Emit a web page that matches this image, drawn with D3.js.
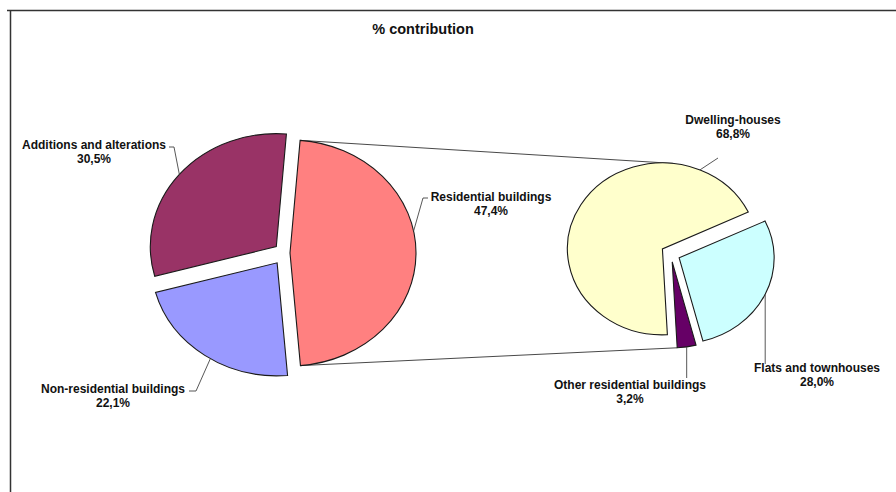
<!DOCTYPE html>
<html>
<head>
<meta charset="utf-8">
<script src="https://cdn.jsdelivr.net/npm/d3@7"></script>
<style>
  html, body { margin: 0; padding: 0; background: #fff; }
  svg { display: block; }
  text { font-family: "Liberation Sans", Arial, sans-serif; font-weight: bold; fill: #111; }
</style>
</head>
<body>
<svg id="chart" width="896" height="492"></svg>
<script>
// ---- data ----
const title = "% contribution";
const mainCategories = ["Residential buildings", "Non-residential buildings", "Additions and alterations"];
const mainValues = [47.4, 22.1, 30.5];
const subCategories = ["Dwelling-houses", "Flats and townhouses", "Other residential buildings"];
const subValues = [68.8, 28.0, 3.2];

// ---- styles / layout ----
const mainColors = ["#FF8080", "#9999FF", "#993366"];
const subColors = ["#FFFFCC", "#CCFFFF", "#660066"];
const deg = Math.PI / 180;

const mainPie = { cx: 284, cy: 253, rx: 126, ry: 113, start: 4.6, explode: [6, 12, 10] };
const subPie = { cx: 671, cy: 254, rx: 95, ry: 86, start: 177, explode: [10, 9, 8] };

const fmt = v => d3.format(".1f")(v).replace(".", ",") + "%";

const svg = d3.select("#chart");

// frame
svg.append("line").attr("x1", 7).attr("y1", 10.5).attr("x2", 896).attr("y2", 10.5)
  .attr("stroke", "#333").attr("stroke-width", 1.5);
svg.append("line").attr("x1", 10.5).attr("y1", 10).attr("x2", 10.5).attr("y2", 492)
  .attr("stroke", "#333").attr("stroke-width", 1.5);

// title
svg.append("text").attr("x", 423).attr("y", 34).attr("text-anchor", "middle")
  .style("font-size", "14.5px").text(title);

function buildPie(cfg, values) {
  const pie = d3.pie().sort(null).value(d => d)
    .startAngle(cfg.start * deg).endAngle(cfg.start * deg + 2 * Math.PI);
  const arcs = pie(values);
  arcs.forEach((a, i) => {
    const mid = (a.startAngle + a.endAngle) / 2;
    a.ox = cfg.cx + cfg.explode[i] * Math.sin(mid);
    a.oy = cfg.cy - cfg.explode[i] * Math.cos(mid);
    a.mid = mid;
  });
  return arcs;
}
function pt(cfg, a, ang) {
  return [a.ox + cfg.rx * Math.sin(ang), a.oy - cfg.ry * Math.cos(ang)];
}
function drawPie(cfg, arcs, colors) {
  const arcGen = d3.arc().innerRadius(0).outerRadius(cfg.rx);
  const g = svg.append("g");
  g.selectAll("path").data(arcs).join("path")
    .attr("transform", d => `translate(${d.ox},${d.oy}) scale(1,${cfg.ry / cfg.rx})`)
    .attr("d", arcGen)
    .attr("fill", (d, i) => colors[i])
    .attr("stroke", "#1a1a1a")
    .attr("stroke-width", 1.1)
    .attr("vector-effect", "non-scaling-stroke")
    .attr("stroke-linejoin", "miter");
}

const mainArcs = buildPie(mainPie, mainValues);
const subArcs = buildPie(subPie, subValues);

// connector lines (residential slice -> secondary pie)
const res = mainArcs[0];
const cTop0 = pt(mainPie, res, res.startAngle);
const cBot0 = pt(mainPie, res, res.endAngle);
const cTop1 = pt(subPie, subArcs[0], (subPie.start + 189.4) * deg);
const cBot1 = pt(subPie, subArcs[2], subArcs[2].endAngle);
const lineGen = d3.line();
svg.append("path").attr("d", lineGen([cTop0, cTop1])).attr("fill", "none").attr("stroke", "#333").attr("stroke-width", 0.9);
svg.append("path").attr("d", lineGen([cBot0, cBot1])).attr("fill", "none").attr("stroke", "#333").attr("stroke-width", 0.9);

drawPie(mainPie, mainArcs, mainColors);
drawPie(subPie, subArcs, subColors);

// labels
function label(x, y, anchor, lines) {
  const t = svg.append("text").attr("text-anchor", anchor).style("font-size", "12px");
  lines.forEach((s, i) => t.append("tspan").attr("x", x).attr("y", y + i * 13.5).text(s));
}
function leader(points) {
  svg.append("path").attr("d", lineGen(points)).attr("fill", "none")
    .attr("stroke", "#444").attr("stroke-width", 0.9);
}

// Additions and alterations
label(94, 149, "middle", [mainCategories[2], fmt(mainValues[2])]);
leader([[169, 147], [174, 147], pt(mainPie, mainArcs[2], mainArcs[2].mid)]);

// Non-residential buildings
label(113, 393, "middle", [mainCategories[1], fmt(mainValues[1])]);
leader([[189, 391], [196, 391], pt(mainPie, mainArcs[1], 212 * deg)]);

// Residential buildings
label(491, 201, "middle", [mainCategories[0], fmt(mainValues[0])]);
leader([[428, 198], [423, 198], pt(mainPie, mainArcs[0], 78.8 * deg)]);

// Dwelling-houses
label(733, 124, "middle", [subCategories[0], fmt(subValues[0])]);
leader([[718, 158], pt(subPie, subArcs[0], 23.3 * deg)]);

// Flats and townhouses
label(817, 372, "middle", [subCategories[1], fmt(subValues[1])]);
const fp = pt(subPie, subArcs[1], subArcs[1].mid);
leader([[fp[0], 364], fp]);

// Other residential buildings
label(630, 389, "middle", [subCategories[2], fmt(subValues[2])]);
const op = pt(subPie, subArcs[2], subArcs[2].mid);
leader([[op[0], 378], op]);
</script>
</body>
</html>
